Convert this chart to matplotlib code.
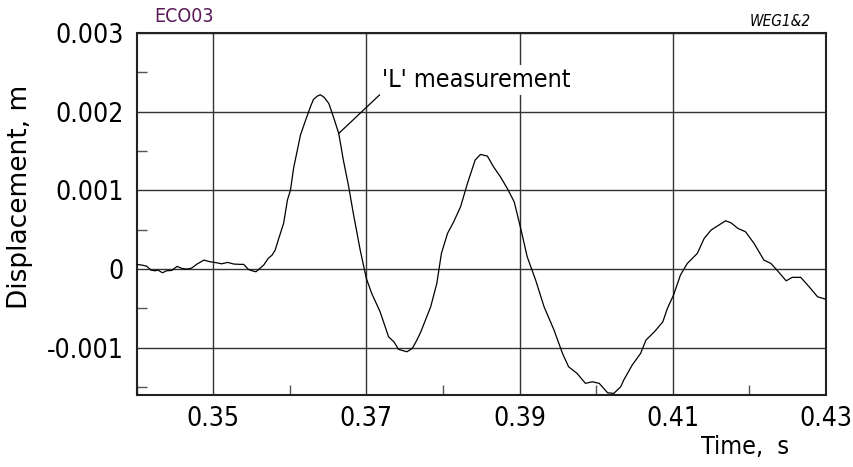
import matplotlib.pyplot as plt
from matplotlib.ticker import MultipleLocator
import numpy as np

plt.rcParams['font.family'] = ['DejaVu Sans']
plt.rcParams['font.stretch'] = 'condensed'

# time (s) and displacement (mm) of the 'L' gauge
time_s = [0.3400, 0.3407, 0.3413, 0.3419, 0.3424, 0.3428, 0.3434, 0.3439, 0.3446, 0.3453,
          0.3459, 0.3466, 0.3472, 0.3479, 0.3488, 0.3496, 0.3505, 0.3511, 0.3519, 0.3527,
          0.3535, 0.3540, 0.3546, 0.3551, 0.3556, 0.3561, 0.3566, 0.3572, 0.3577, 0.3581,
          0.3585, 0.3592, 0.3597, 0.3601, 0.3605, 0.3614, 0.3620, 0.3627, 0.3631, 0.3636,
          0.3640, 0.3645, 0.3651, 0.3657, 0.3664, 0.3670, 0.3677, 0.3683, 0.3692, 0.3700,
          0.3707, 0.3718, 0.3729, 0.3736, 0.3742, 0.3753, 0.3760, 0.3766, 0.3771, 0.3784,
          0.3792, 0.3798, 0.3806, 0.3814, 0.3823, 0.3832, 0.3842, 0.3849, 0.3858, 0.3866,
          0.3875, 0.3884, 0.3893, 0.3902, 0.3910, 0.3921, 0.3932, 0.3945, 0.3956, 0.3964,
          0.3975, 0.3986, 0.3995, 0.4004, 0.4015, 0.4023, 0.4032, 0.4036, 0.4047, 0.4058,
          0.4065, 0.4076, 0.4087, 0.4093, 0.4101, 0.4110, 0.4119, 0.4132, 0.4141, 0.4150,
          0.4158, 0.4169, 0.4176, 0.4185, 0.4195, 0.4206, 0.4219, 0.4228, 0.4236, 0.4248,
          0.4256, 0.4267, 0.4278, 0.4289, 0.4299]
disp_mm = [0.060, 0.051, 0.038, -0.013, -0.022, -0.013, -0.047, -0.022, -0.017, 0.034,
           0.009, 0.000, 0.013, 0.064, 0.114, 0.093, 0.080, 0.067, 0.085, 0.064,
           0.060, 0.060, -0.004, -0.022, -0.034, 0.009, 0.051, 0.136, 0.178, 0.241,
           0.368, 0.581, 0.877, 1.004, 1.280, 1.703, 1.872, 2.062, 2.156, 2.198,
           2.215, 2.182, 2.105, 1.935, 1.724, 1.385, 1.046, 0.708, 0.241, -0.118,
           -0.309, -0.543, -0.860, -0.924, -1.020, -1.051, -1.008, -0.902, -0.800, -0.479,
           -0.182, 0.199, 0.454, 0.601, 0.792, 1.089, 1.385, 1.457, 1.436, 1.300,
           1.173, 1.025, 0.855, 0.496, 0.156, -0.140, -0.479, -0.775, -1.071, -1.241,
           -1.325, -1.452, -1.432, -1.452, -1.572, -1.580, -1.496, -1.410, -1.220, -1.071,
           -0.902, -0.797, -0.670, -0.499, -0.330, -0.076, 0.072, 0.199, 0.390, 0.496,
           0.546, 0.614, 0.588, 0.517, 0.474, 0.327, 0.114, 0.072, -0.013, -0.149,
           -0.105, -0.105, -0.225, -0.352, -0.381]

x_ticks = [0.35, 0.37, 0.39, 0.41, 0.43]
y_ticks = [-0.001, 0, 0.001, 0.002, 0.003]
y_labels = ['-0.001', '0', '0.001', '0.002', '0.003']

t = np.array(time_s)
d = np.array(disp_mm) / 1000.0

fig = plt.figure(figsize=(8.54, 4.67), dpi=100)
ax = fig.add_axes([136.5 / 854, 72 / 467, 689.5 / 854, 362 / 467])

ax.plot(t, d, color='black', lw=0.9, zorder=3)

ax.set_xlim(0.34, 0.43)
ax.set_ylim(-0.0016, 0.003)
ax.set_xticks(x_ticks)
ax.set_xticklabels([f'{v:.2f}' for v in x_ticks])
ax.set_yticks(y_ticks)
ax.set_yticklabels(y_labels)
ax.xaxis.set_minor_locator(MultipleLocator(0.01))
ax.yaxis.set_minor_locator(MultipleLocator(0.0005))
ax.tick_params(which='both', direction='in', labelsize=19, top=False, right=False)
ax.tick_params(axis='x', which='major', length=0, pad=8)
ax.tick_params(axis='y', which='major', length=0, pad=9)
ax.tick_params(which='minor', length=7, width=1, color='#555')
ax.grid(True, which='major', color='#333', lw=1.0)
for s in ax.spines.values():
    s.set_linewidth(1.5)
    s.set_color('#222')

ax.set_ylabel('Displacement, m', fontsize=19, fontstretch='normal')
ax.yaxis.set_label_coords(-0.150, 0.547)
ax.set_xlabel('Time,  s', fontsize=18)
ax.xaxis.set_label_coords(0.882, -0.11)

ax.annotate("'L' measurement", xy=(0.3664, 0.001724), xytext=(0.3721, 0.00240),
            fontsize=18, va='center', ha='left',
            bbox=dict(facecolor='white', edgecolor='none', pad=2),
            arrowprops=dict(arrowstyle='-', color='black', lw=0.9,
                            shrinkA=0, shrinkB=0, relpos=(0, 0)),
            zorder=4)

fig.text(154 / 854, 1 - 17 / 467, 'ECO03', color='#5a1a5a', fontsize=14,
         ha='left', va='center')
fig.text(811 / 854, 1 - 21 / 467, 'WEG1&2', fontsize=11, style='italic',
         ha='right', va='center')

fig.savefig('out.png', dpi=100)
